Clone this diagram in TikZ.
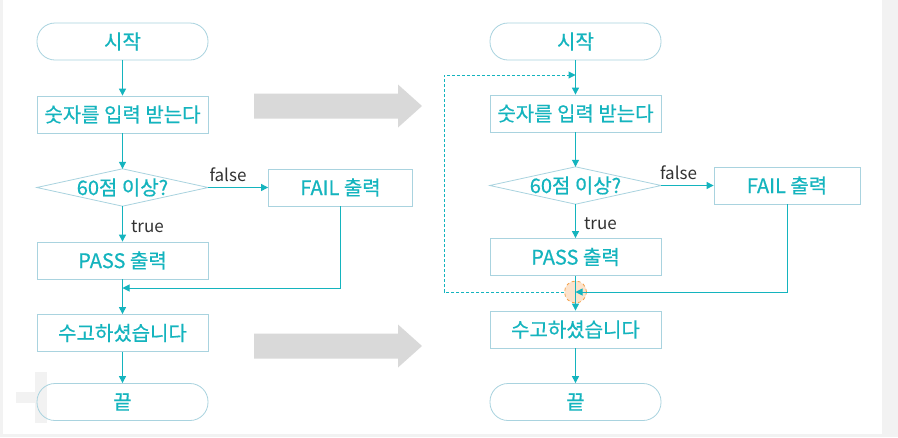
\documentclass[tikz,border=0pt]{standalone}
\usepackage{fontspec}
\setmainfont{Noto Sans CJK KR}[FakeBold=0.6]
\newfontfamily\tagfont{Noto Sans CJK KR}
\usetikzlibrary{arrows.meta}
\definecolor{flowteal}{HTML}{14B4BE}
\definecolor{edgeblue}{HTML}{A9D3DF}
\definecolor{tagdark}{HTML}{333333}
\definecolor{bigarrow}{HTML}{D9D9D9}
\definecolor{pagegray}{HTML}{F2F2F2}
\definecolor{hitfill}{HTML}{FCE3CC}
\definecolor{hitdraw}{HTML}{F4A048}

\begin{document}
\begin{tikzpicture}
  [x=1pt,y=-1pt,
    every node/.style={inner sep=0pt,font=\fontsize{20}{23}\selectfont,text=flowteal},
    box/.style={draw=edgeblue,line width=0.8pt,minimum width=171pt,minimum height=37pt},
    term/.style={box,rounded corners=18pt},
    decide/.style={minimum width=171pt,minimum height=37pt},
    flow/.style={draw=flowteal,line width=1pt,-{Triangle[length=7pt,width=7pt]}},
    tag/.style={font=\tagfont\fontsize{17}{20}\selectfont,text=tagdark},
]
  % page
  \fill[white] (0,0) rectangle (898,437);
  \fill[pagegray] (0,0) rectangle (3,437);
  \fill[pagegray] (882,0) rectangle (898,437);
  \fill[pagegray] (0,434) rectangle (898,437);
  \fill[pagegray] (35,372) rectangle (47,423);
  \fill[pagegray] (16,392) rectangle (47,403);
  % big arrows
  \foreach \y in {106,346}
    \fill[bigarrow] (254,\y-12.5) -- (398,\y-12.5) -- (398,\y-21.5) -- (422,\y)
      -- (398,\y+21.5) -- (398,\y+12.5) -- (254,\y+12.5) -- cycle;

  % left chart
  \node[term] (s1) at (122.5,41.5) {시작};
  \node[box] (in1) at (122.5,114.5) {숫자를 입력 받는다};
  \node[decide] (dec1) at (122.5,187.5) {60점 이상?};
  \node[box,minimum width=144pt] (fail1) at (340.5,187.5) {FAIL 출력};
  \node[box] (pass1) at (122.5,260.5) {PASS 출력};
  \node[box] (done1) at (122.5,333) {수고하셨습니다};
  \node[term] (end1) at (122.5,402) {끝};
  \coordinate (j1) at (122.5,288);

  % right chart
  \node[term] (s2) at (575.5,41.5) {시작};
  \node[box] (in2) at (575.5,113.5) {숫자를 입력 받는다};
  \node[decide] (dec2) at (575.5,185.5) {60점 이상?};
  \node[box,minimum width=146pt] (fail2) at (787,185.5) {FAIL 출력};
  \node[box] (pass2) at (575.5,257) {PASS 출력};
  \node[box] (done2) at (575.5,329.5) {수고하셨습니다};
  \node[term] (end2) at (575.5,402) {끝};
  \node[circle,minimum size=22pt,fill=hitfill,draw=hitdraw,dashed,line width=0.8pt] (hit) at (575.5,292) {};
  \coordinate (j2) at (575.5,292);
  \coordinate (top2) at (575.5,75);
  \coordinate (back) at (444,292);

  \foreach \d in {dec1,dec2}
    \draw[edgeblue,line width=0.8pt] (\d.west) -- (\d.north) -- (\d.east) -- (\d.south) -- cycle;

  \draw[flow] (s1) -- (in1);
  \draw[flow] (in1) -- (dec1);
  \draw[flow] (dec1) -- node[tag,above=5pt,pos=0.33] {false} (fail1);
  \draw[flow] (dec1) -- node[tag,right=8pt,yshift=-3pt] {true} (pass1);
  \draw[flow] (pass1) -- (done1);
  \draw[flow] (fail1) |- (j1);
  \draw[flow] (done1) -- (end1);

  \draw[flow] (s2) -- (in2);
  \draw[flow,dash pattern=on 3pt off 2pt] (hit.west) -- (back) |- (top2);
  \draw[flow] (in2) -- (dec2);
  \draw[flow] (dec2) -- node[tag,above=5pt,pos=0.33] {false} (fail2);
  \draw[flow] (dec2) -- node[tag,right=8pt,yshift=-3pt] {true} (pass2);
  \draw[flow] (pass2) -- (done2);
  \draw[flow] (fail2) |- (j2);
  \draw[flow] (done2) -- (end2);
\end{tikzpicture}
\end{document}
